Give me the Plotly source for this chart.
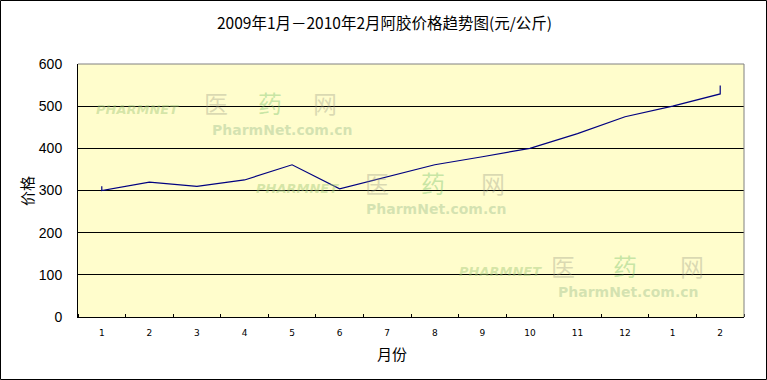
import plotly.graph_objects as go

# ---- data ----
tick_labels = ["1", "2", "3", "4", "5", "6", "7", "8", "9", "10", "11", "12", "1", "2"]
point_month_index = [0, 0, 1, 2, 3, 4, 5, 6, 7, 8, 9, 10, 11, 12, 13, 13]
price = [310, 300, 320, 310, 325, 361, 304, 332, 361, 380, 400, 435, 475, 500, 529, 549]
y_ticks = [0, 100, 200, 300, 400, 500, 600]

title = "2009年1月－2010年2月阿胶价格趋势图(元/公斤)"
x_title = "月份"
y_title = "价格"

W, H = 767, 380
L, R, T, B = 78, 744, 64, 317
FONT = "Noto Sans CJK SC, DejaVu Sans, sans-serif"


def px(x):
    return (x - L) / (R - L)


def py(y):
    return (B - y) / (B - T)


def ann(text, x, y, size, color="black", family=FONT, angle=0):
    return dict(text=text, x=px(x), y=py(y), xref="paper", yref="paper",
                xanchor="center", yanchor="middle", showarrow=False, textangle=angle,
                font=dict(family=family, size=size, color=color))


fig = go.Figure()
fig.add_trace(go.Scatter(
    x=point_month_index, y=price, mode="lines",
    line=dict(color="#000080", width=1.2), hoverinfo="skip", showlegend=False,
))

annotations = [
    ann(title, 384, 22, 15.5),
    ann(x_title, 392, 353, 15),
    ann(y_title, 26, 191, 15, angle=-90),
]

# faint watermarks (logo text of the source site), pixel positions
wm_groups = [
    dict(brand=(137, 110), yi=(216, 102), yao=(270, 102), wang=(325, 102), url=(282, 130)),
    dict(brand=(297, 188), yi=(377, 182), yao=(433, 182), wang=(493, 182), url=(436, 209)),
    dict(brand=(500, 271), yi=(563, 265), yao=(625, 265), wang=(692, 265), url=(628, 292)),
]
for g in wm_groups:
    annotations += [
        ann("<b><i>PHARMNET</i></b>", *g["brand"], 13, "rgba(160,200,120,0.45)", "DejaVu Sans"),
        ann("医", *g["yi"], 24, "rgba(150,150,130,0.35)"),
        ann("药", *g["yao"], 24, "rgba(110,190,100,0.4)"),
        ann("网", *g["wang"], 24, "rgba(150,150,130,0.35)"),
        ann("<b>PharmNet.com.cn</b>", *g["url"], 14, "rgba(170,200,150,0.5)", "DejaVu Sans"),
    ]

shapes = [
    # outer border
    dict(type="rect", xref="paper", yref="paper",
         x0=px(0.5), x1=px(W - 0.5), y0=py(H - 0.5), y1=py(0.5),
         line=dict(color="black", width=1), layer="above"),
    # top and right plot border
    dict(type="line", xref="paper", yref="paper", x0=0, x1=1, y0=1, y1=1,
         line=dict(color="#808080", width=1)),
    dict(type="line", xref="paper", yref="paper", x0=1, x1=1, y0=0, y1=1,
         line=dict(color="#808080", width=1)),
]

fig.update_layout(
    width=W, height=H,
    margin=dict(l=L, r=W - R, t=T, b=H - B),
    paper_bgcolor="white", plot_bgcolor="#FFFDCC",
    font=dict(family=FONT, color="black"),
    annotations=annotations, shapes=shapes,
    xaxis=dict(
        range=[-0.5, len(tick_labels) - 0.5],
        tickmode="array", tickvals=list(range(len(tick_labels))), ticktext=tick_labels,
        ticks="", showgrid=False, zeroline=False,
        showline=True, linecolor="black", linewidth=1,
        tickfont=dict(family="DejaVu Sans", size=9, color="black"),
        ticklabelstandoff=7,
        minor=dict(tickmode="array", tickvals=[i - 0.5 for i in range(len(tick_labels) + 1)],
                   ticks="inside", ticklen=3, tickcolor="black", showgrid=False),
        fixedrange=True,
    ),
    yaxis=dict(
        range=[0, 600], tickmode="array", tickvals=y_ticks,
        ticks="inside", ticklen=3, tickcolor="black",
        showgrid=True, gridcolor="black", gridwidth=1, zeroline=False,
        showline=True, linecolor="black", linewidth=1,
        tickfont=dict(family="Liberation Sans, Arial", size=14, color="black"),
        ticklabelstandoff=12,
        fixedrange=True,
    ),
)

fig.write_html("out.html", config={"displayModeBar": False},
               post_script="document.body.style.margin='0';document.body.style.overflow='hidden';")
